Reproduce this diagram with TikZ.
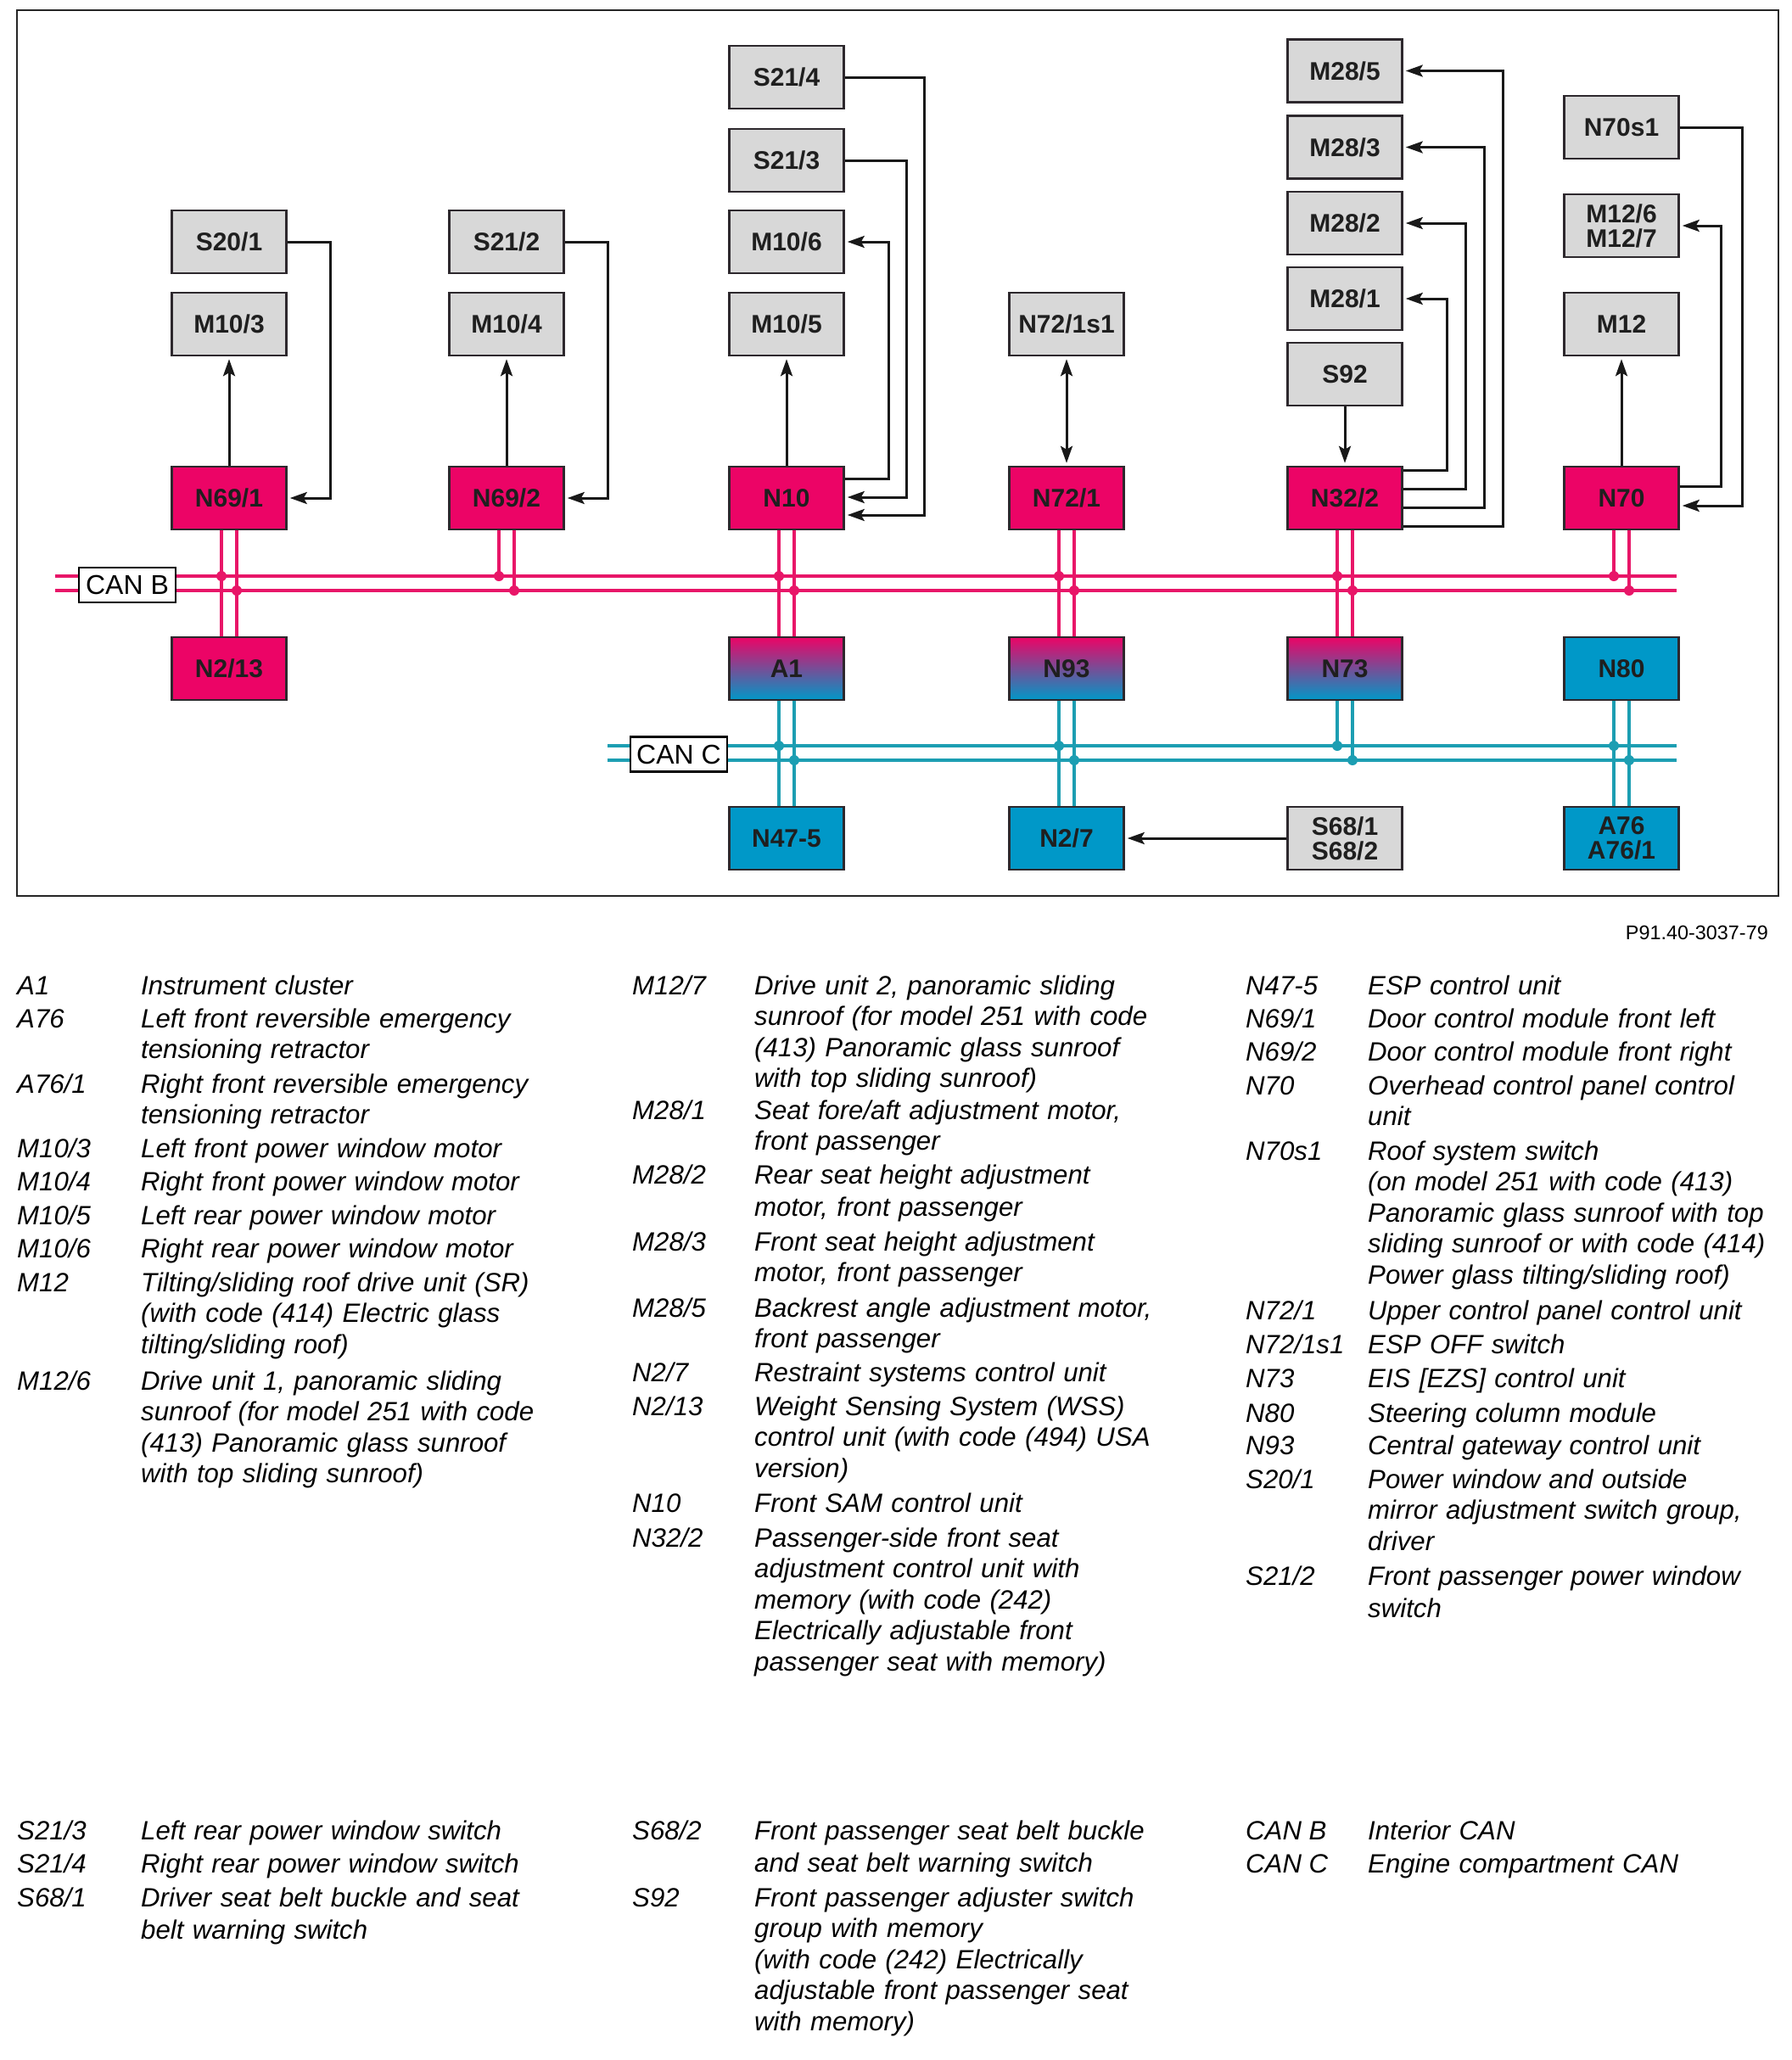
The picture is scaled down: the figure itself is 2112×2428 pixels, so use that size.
\documentclass[tikz,border=0pt]{standalone}
\usepackage{fontspec}
\setmainfont{Liberation Sans}
\usetikzlibrary{arrows.meta}
\definecolor{pinkc}{RGB}{236,4,102}
\definecolor{bluec}{RGB}{0,152,200}
\definecolor{busp}{RGB}{232,22,104}
\definecolor{busb}{RGB}{28,158,178}
\definecolor{grayf}{RGB}{216,216,216}
\definecolor{edgec}{RGB}{45,40,45}
\begin{document}
\begin{tikzpicture}[x=1pt,y=-1pt,
  box/.style={draw=edgec, line width=2.5pt, minimum width=135pt, minimum height=74pt,
    inner sep=0pt, align=center, text=black!88, font=\bfseries\fontsize{30}{29}\selectfont},
  gbox/.style={box, fill=grayf},
  pbox/.style={box, fill=pinkc},
  bbox/.style={box, fill=bluec},
  mbox/.style={box, top color=pinkc, bottom color=bluec},
  link/.style={line width=3pt, draw=black!90},
  tip/.tip={Stealth[length=20pt,width=14pt,inset=4pt]},
  arr/.style={link, -tip, shorten >=3pt},
  pbus/.style={line width=4pt, draw=busp},
  bbus/.style={line width=4pt, draw=busb},
  pdot/.style={fill=busp},
  bdot/.style={fill=busb},
  canlabel/.style={draw=black, line width=2.5pt, fill=white, minimum width=114pt,
    minimum height=41pt, inner sep=0pt, font=\fontsize{32}{32}\selectfont},
  code/.style={anchor=base west, inner sep=0pt, font=\itshape\fontsize{31.2}{36.6}\selectfont},
  desc/.style={anchor=base west, inner sep=0pt, text width=540pt, align=left, font=\itshape\fontsize{31.2}{36.6}\selectfont},
]
\useasboundingbox (0,0) rectangle (2112,2428);
\draw[line width=2pt, draw=black!85] (20,12) rectangle (2096,1056);

% ---------- bus lines ----------
\coordinate (bL1) at (65,679);  \coordinate (bR1) at (1976,679);
\coordinate (bL2) at (65,696);  \coordinate (bR2) at (1976,696);
\coordinate (cL1) at (716,879); \coordinate (cR1) at (1976,879);
\coordinate (cL2) at (716,896); \coordinate (cR2) at (1976,896);
\draw[pbus] (bL1) -- (bR1);
\draw[pbus] (bL2) -- (bR2);
\draw[bbus] (cL1) -- (cR1);
\draw[bbus] (cL2) -- (cR2);
\node[canlabel] (canb) at (150,689.5) {CAN B};
\node[canlabel] (canc) at (800,889) {CAN C};

% ---------- boxes ----------
% column 1
\node[gbox] (s201) at (270,285) {S20/1};
\node[gbox] (m103) at (270,382) {M10/3};
\node[pbox] (n691) at (270,587) {N69/1};
\node[pbox] (n213) at (270,788) {N2/13};
% column 2
\node[gbox] (s212) at (597,285) {S21/2};
\node[gbox] (m104) at (597,382) {M10/4};
\node[pbox] (n692) at (597,587) {N69/2};
% column 3
\node[gbox] (s214) at (927,91) {S21/4};
\node[gbox] (s213) at (927,189) {S21/3};
\node[gbox] (m106) at (927,285) {M10/6};
\node[gbox] (m105) at (927,382) {M10/5};
\node[pbox] (n10) at (927,587) {N10};
\node[mbox] (a1) at (927,788) {A1};
\node[bbox] (n475) at (927,988) {N47-5};
% column 4
\node[gbox] (n721s1) at (1257,382) {N72/1s1};
\node[pbox] (n721) at (1257,587) {N72/1};
\node[mbox] (n93) at (1257,788) {N93};
\node[bbox] (n27) at (1257,988) {N2/7};
% column 5
\node[gbox] (m285) at (1585,83.5) {M28/5};
\node[gbox] (m283) at (1585,173.5) {M28/3};
\node[gbox] (m282) at (1585,263) {M28/2};
\node[gbox] (m281) at (1585,352) {M28/1};
\node[gbox] (s92) at (1585,441) {S92};
\node[pbox] (n322) at (1585,587) {N32/2};
\node[mbox] (n73) at (1585,788) {N73};
\node[gbox] (s68) at (1585,988) {S68/1\\S68/2};
% column 6
\node[gbox] (n70s1) at (1911,150) {N70s1};
\node[gbox] (m126) at (1911,266) {M12/6\\M12/7};
\node[gbox] (m12) at (1911,382) {M12};
\node[pbox] (n70) at (1911,587) {N70};
\node[bbox] (n80) at (1911,788) {N80};
\node[bbox] (a76) at (1911,988) {A76\\A76/1};

% ---------- bus taps ----------
% col 1
\draw[pbus] ([xshift=-9pt]n691.south) -- ([xshift=-9pt]n213.north);
\draw[pbus] ([xshift=9pt]n691.south) -- ([xshift=9pt]n213.north);
\fill[pdot] (261,679) circle (6pt); \fill[pdot] (279,696) circle (6pt);
% col 2
\draw[pbus] ([xshift=-9pt]n692.south) -- (588,679);
\draw[pbus] ([xshift=9pt]n692.south) -- (606,696);
\fill[pdot] (588,679) circle (6pt); \fill[pdot] (606,696) circle (6pt);
% col 3
\draw[pbus] ([xshift=-9pt]n10.south) -- ([xshift=-9pt]a1.north);
\draw[pbus] ([xshift=9pt]n10.south) -- ([xshift=9pt]a1.north);
\fill[pdot] (918,679) circle (6pt); \fill[pdot] (936,696) circle (6pt);
\draw[bbus] ([xshift=-9pt]a1.south) -- ([xshift=-9pt]n475.north);
\draw[bbus] ([xshift=9pt]a1.south) -- ([xshift=9pt]n475.north);
\fill[bdot] (918,879) circle (6pt); \fill[bdot] (936,896) circle (6pt);
% col 4
\draw[pbus] ([xshift=-9pt]n721.south) -- ([xshift=-9pt]n93.north);
\draw[pbus] ([xshift=9pt]n721.south) -- ([xshift=9pt]n93.north);
\fill[pdot] (1248,679) circle (6pt); \fill[pdot] (1266,696) circle (6pt);
\draw[bbus] ([xshift=-9pt]n93.south) -- ([xshift=-9pt]n27.north);
\draw[bbus] ([xshift=9pt]n93.south) -- ([xshift=9pt]n27.north);
\fill[bdot] (1248,879) circle (6pt); \fill[bdot] (1266,896) circle (6pt);
% col 5
\draw[pbus] ([xshift=-9pt]n322.south) -- ([xshift=-9pt]n73.north);
\draw[pbus] ([xshift=9pt]n322.south) -- ([xshift=9pt]n73.north);
\fill[pdot] (1576,679) circle (6pt); \fill[pdot] (1594,696) circle (6pt);
\draw[bbus] ([xshift=-9pt]n73.south) -- (1576,879);
\draw[bbus] ([xshift=9pt]n73.south) -- (1594,896);
\fill[bdot] (1576,879) circle (6pt); \fill[bdot] (1594,896) circle (6pt);
% col 6
\draw[pbus] ([xshift=-9pt]n70.south) -- (1902,679);
\draw[pbus] ([xshift=9pt]n70.south) -- (1920,696);
\fill[pdot] (1902,679) circle (6pt); \fill[pdot] (1920,696) circle (6pt);
\draw[bbus] ([xshift=-9pt]n80.south) -- ([xshift=-9pt]a76.north);
\draw[bbus] ([xshift=9pt]n80.south) -- ([xshift=9pt]a76.north);
\fill[bdot] (1902,879) circle (6pt); \fill[bdot] (1920,896) circle (6pt);

% ---------- signal connectors ----------
\draw[arr] (n691) -- (m103);
\draw[arr] (s201.east) -- (389,285) -- (389,587) -- (n691.east);
\draw[arr] (n692) -- (m104);
\draw[arr] (s212.east) -- (716,285) -- (716,587) -- (n692.east);
\draw[arr] (n10) -- (m105);
\draw[arr] (n10.east |- 0,564) -- (1047,564) -- (1047,285) -- (m106.east);
\draw[arr] (s213.east) -- (1068,189) -- (1068,586) -- (n10.east |- 0,586);
\draw[arr] (s214.east) -- (1089,91) -- (1089,607) -- (n10.east |- 0,607);
\draw[link, tip-tip, shorten >=3pt, shorten <=3pt] (n721) -- (n721s1);
\draw[arr] (s92) -- (n322);
\draw[arr] (n322.east |- 0,554) -- (1705,554) -- (1705,352) -- (m281.east);
\draw[arr] (n322.east |- 0,576) -- (1727,576) -- (1727,263) -- (m282.east);
\draw[arr] (n322.east |- 0,598) -- (1749,598) -- (1749,173.5) -- (m283.east);
\draw[arr] (n322.east |- 0,620) -- (1771,620) -- (1771,83.5) -- (m285.east);
\draw[arr] (n70) -- (m12);
\draw[arr] (n70.east |- 0,573) -- (2028,573) -- (2028,266) -- (m126.east);
\draw[arr] (n70s1.east) -- (2053,150) -- (2053,596) -- (n70.east |- 0,596);
\draw[arr] (s68) -- (n27);

% ---------- figure number ----------
\node[anchor=base east, inner sep=0pt, font=\fontsize{23.4}{24}\selectfont] (fig) at (2084,1107.5) {P91.40-3037-79};

% ---------- legend, column 1 ----------
\node[code] (c1) at (20,1172) {A1};      \node[desc] (d1) at (166,1172) {Instrument cluster};
\node[code] (c2) at (20,1211) {A76};     \node[desc] (d2) at (166,1211) {Left front reversible emergency\\tensioning retractor};
\node[code] (c3) at (20,1288) {A76/1};   \node[desc] (d3) at (166,1288) {Right front reversible emergency\\tensioning retractor};
\node[code] (c4) at (20,1364) {M10/3};   \node[desc] (d4) at (166,1364) {Left front power window motor};
\node[code] (c5) at (20,1403) {M10/4};   \node[desc] (d5) at (166,1403) {Right front power window motor};
\node[code] (c6) at (20,1443) {M10/5};   \node[desc] (d6) at (166,1443) {Left rear power window motor};
\node[code] (c7) at (20,1482) {M10/6};   \node[desc] (d7) at (166,1482) {Right rear power window motor};
\node[code] (c8) at (20,1522) {M12};     \node[desc] (d8) at (166,1522) {Tilting/sliding roof drive unit (SR)\\(with code (414) Electric glass\\tilting/sliding roof)};
\node[code] (c9) at (20,1638) {M12/6};   \node[desc] (d9) at (166,1638) {Drive unit 1, panoramic sliding\\sunroof (for model 251 with code\\(413) Panoramic glass sunroof\\with top sliding sunroof)};
\node[code] (c10) at (20,2168) {S21/3};  \node[desc] (d10) at (166,2168) {Left rear power window switch};
\node[code] (c11) at (20,2207) {S21/4};  \node[desc] (d11) at (166,2207) {Right rear power window switch};
\node[code] (c12) at (20,2247) {S68/1};  \node[desc] (d12) at (166,2247) {Driver seat belt buckle and seat\\[2pt]belt warning switch};

% ---------- legend, column 2 ----------
\node[code] (e1) at (745,1172) {M12/7};  \node[desc] (f1) at (889,1172) {Drive unit 2, panoramic sliding\\sunroof (for model 251 with code\\(413) Panoramic glass sunroof\\with top sliding sunroof)};
\node[code] (e2) at (745,1319) {M28/1};  \node[desc] (f2) at (889,1319) {Seat fore/aft adjustment motor,\\front passenger};
\node[code] (e3) at (745,1395) {M28/2};  \node[desc] (f3) at (889,1395) {Rear seat height adjustment\\[2pt]motor, front passenger};
\node[code] (e4) at (745,1474) {M28/3};  \node[desc] (f4) at (889,1474) {Front seat height adjustment\\motor, front passenger};
\node[code] (e5) at (745,1552) {M28/5};  \node[desc] (f5) at (889,1552) {Backrest angle adjustment motor,\\front passenger};
\node[code] (e6) at (745,1628) {N2/7};   \node[desc] (f6) at (889,1628) {Restraint systems control unit};
\node[code] (e7) at (745,1668) {N2/13};  \node[desc] (f7) at (889,1668) {Weight Sensing System (WSS)\\control unit (with code (494) USA\\version)};
\node[code] (e8) at (745,1782) {N10};    \node[desc] (f8) at (889,1782) {Front SAM control unit};
\node[code] (e9) at (745,1823) {N32/2};  \node[desc] (f9) at (889,1823) {Passenger-side front seat\\adjustment control unit with\\memory (with code (242)\\Electrically adjustable front\\passenger seat with memory)};
\node[code] (e10) at (745,2168) {S68/2}; \node[desc] (f10) at (889,2168) {Front passenger seat belt buckle\\[2pt]and seat belt warning switch};
\node[code] (e11) at (745,2247) {S92};   \node[desc] (f11) at (889,2247) {Front passenger adjuster switch\\group with memory\\(with code (242) Electrically\\adjustable front passenger seat\\with memory)};

% ---------- legend, column 3 ----------
\node[code] (g1) at (1468,1172) {N47-5};   \node[desc] (h1) at (1612,1172) {ESP control unit};
\node[code] (g2) at (1468,1211) {N69/1};   \node[desc] (h2) at (1612,1211) {Door control module front left};
\node[code] (g3) at (1468,1250) {N69/2};   \node[desc] (h3) at (1612,1250) {Door control module front right};
\node[code] (g4) at (1468,1290) {N70};     \node[desc] (h4) at (1612,1290) {Overhead control panel control\\unit};
\node[code] (g5) at (1468,1367) {N70s1};   \node[desc] (h5) at (1612,1367) {Roof system switch\\(on model 251 with code (413)\\Panoramic glass sunroof with top\\sliding sunroof or with code (414)\\Power glass tilting/sliding roof)};
\node[code] (g6) at (1468,1555) {N72/1};   \node[desc] (h6) at (1612,1555) {Upper control panel control unit};
\node[code] (g7) at (1468,1595) {N72/1s1}; \node[desc] (h7) at (1612,1595) {ESP OFF switch};
\node[code] (g8) at (1468,1635) {N73};     \node[desc] (h8) at (1612,1635) {EIS [EZS] control unit};
\node[code] (g9) at (1468,1676) {N80};     \node[desc] (h9) at (1612,1676) {Steering column module};
\node[code] (g10) at (1468,1714) {N93};    \node[desc] (h10) at (1612,1714) {Central gateway control unit};
\node[code] (g11) at (1468,1754) {S20/1};  \node[desc] (h11) at (1612,1754) {Power window and outside\\mirror adjustment switch group,\\driver};
\node[code] (g12) at (1468,1868) {S21/2};  \node[desc] (h12) at (1612,1868) {Front passenger power window\\[2pt]switch};
\node[code] (g13) at (1468,2168) {CAN B};  \node[desc] (h13) at (1612,2168) {Interior CAN};
\node[code] (g14) at (1468,2207) {CAN C};  \node[desc] (h14) at (1612,2207) {Engine compartment CAN};
\end{tikzpicture}
\end{document}
